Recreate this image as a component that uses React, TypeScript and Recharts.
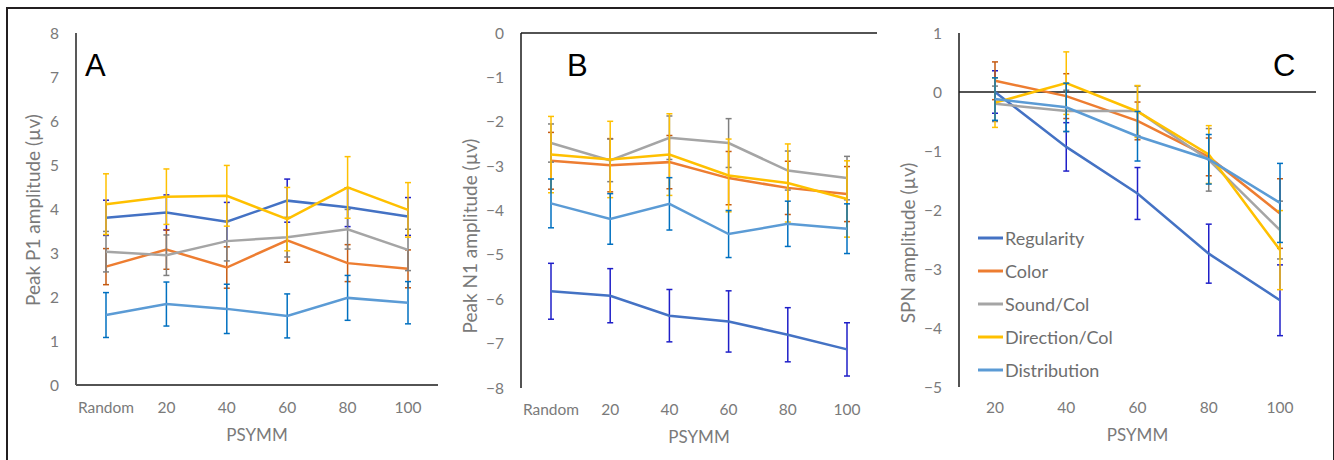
import { LineChart, Line, XAxis, YAxis, ErrorBar, ReferenceLine, Legend, Label } from "recharts";

const psymmAB = ["Random", "20", "40", "60", "80", "100"];
const psymmC = ["20", "40", "60", "80", "100"];

// panel A: peak P1 amplitude (µv), mean and error
const p1Regularity = [3.8, 3.92, 3.71, 4.19, 4.04, 3.83];
const p1RegularityErr = [0.4, 0.4, 0.44, 0.49, 0.44, 0.43];
const p1Color = [2.69, 3.08, 2.67, 3.29, 2.77, 2.64];
const p1ColorErr = [0.41, 0.45, 0.47, 0.5, 0.42, 0.43];
const p1Sound = [3.03, 2.95, 3.27, 3.36, 3.54, 3.07];
const p1SoundErr = [0.46, 0.46, 0.45, 0.45, 0.45, 0.47];
const p1Direction = [4.11, 4.28, 4.3, 3.77, 4.49, 3.98];
const p1DirectionErr = [0.69, 0.63, 0.69, 0.72, 0.7, 0.62];
const p1Distribution = [1.59, 1.84, 1.73, 1.57, 1.98, 1.87];
const p1DistributionErr = [0.51, 0.5, 0.56, 0.5, 0.51, 0.48];

// panel B: peak N1 amplitude (µv)
const n1Regularity = [-5.82, -5.92, -6.37, -6.5, -6.8, -7.13];
const n1RegularityErr = [0.63, 0.61, 0.59, 0.69, 0.61, 0.6];
const n1Color = [-2.88, -2.98, -2.91, -3.27, -3.49, -3.63];
const n1ColorErr = [0.64, 0.6, 0.6, 0.6, 0.6, 0.62];
const n1Sound = [-2.48, -2.87, -2.36, -2.48, -3.1, -3.27];
const n1SoundErr = [0.43, 0.48, 0.49, 0.55, 0.44, 0.49];
const n1Direction = [-2.74, -2.85, -2.74, -3.21, -3.38, -3.74];
const n1DirectionErr = [0.86, 0.86, 0.92, 0.82, 0.88, 0.86];
const n1Distribution = [-3.84, -4.19, -3.85, -4.53, -4.3, -4.41];
const n1DistributionErr = [0.55, 0.57, 0.59, 0.53, 0.51, 0.56];

// panel C: SPN amplitude (µv)
const spnRegularity = [0.0, -0.93, -1.72, -2.74, -3.53];
const spnRegularityErr = [0.36, 0.41, 0.44, 0.5, 0.6];
const spnColor = [0.19, -0.07, -0.49, -1.1, -2.06];
const spnColorErr = [0.32, 0.38, 0.32, 0.32, 0.59];
const spnSound = [-0.2, -0.32, -0.32, -1.15, -2.34];
const spnSoundErr = [0.3, 0.35, 0.42, 0.53, 0.49];
const spnDirection = [-0.18, 0.15, -0.33, -1.06, -2.68];
const spnDirectionErr = [0.42, 0.53, 0.44, 0.49, 0.67];
const spnDistribution = [-0.12, -0.26, -0.75, -1.14, -1.88];
const spnDistributionErr = [0.36, 0.41, 0.42, 0.42, 0.67];

const series = [
  { key: "reg", name: "Regularity", color: "#4472C4", err: "#1F1FC8" },
  { key: "col", name: "Color", color: "#ED7D31", err: "#C55A11" },
  { key: "snd", name: "Sound/Col", color: "#A5A5A5", err: "#7F7F7F" },
  { key: "dir", name: "Direction/Col", color: "#FFC000", err: "#FFC000" },
  { key: "dist", name: "Distribution", color: "#5B9BD5", err: "#0070C0" },
];

const FONT = "Lato, 'Open Sans', sans-serif";
const TXT = "#7a7a7a";

function rows(cats: string[], vals: number[][], errs: number[][]) {
  return cats.map((cat, i) => {
    const r: Record<string, string | number> = { cat };
    series.forEach((s, j) => {
      r[s.key] = vals[j][i];
      r[s.key + "Err"] = errs[j][i];
    });
    return r;
  });
}

const dataA = rows(
  psymmAB,
  [p1Regularity, p1Color, p1Sound, p1Direction, p1Distribution],
  [p1RegularityErr, p1ColorErr, p1SoundErr, p1DirectionErr, p1DistributionErr]
);
const dataB = rows(
  psymmAB,
  [n1Regularity, n1Color, n1Sound, n1Direction, n1Distribution],
  [n1RegularityErr, n1ColorErr, n1SoundErr, n1DirectionErr, n1DistributionErr]
);
const dataC = rows(
  psymmC,
  [spnRegularity, spnColor, spnSound, spnDirection, spnDistribution],
  [spnRegularityErr, spnColorErr, spnSoundErr, spnDirectionErr, spnDistributionErr]
);

const minus = (v: number) => (v < 0 ? `\u2212${Math.abs(v)}` : `${v}`);
const tickStyle = { fill: TXT, fontSize: 15.5, fontFamily: FONT };

const yTitle = (text: string, cx: number, cy: number) => () => (
  <text
    x={cx}
    y={cy}
    transform={`rotate(-90 ${cx} ${cy})`}
    textAnchor="middle"
    dominantBaseline="central"
    fill={TXT}
    fontSize={19}
    fontFamily={FONT}
  >
    {text}
  </text>
);

function lines() {
  return series.map((s) => (
    <Line
      key={s.key}
      dataKey={s.key}
      name={s.name}
      stroke={s.color}
      strokeWidth={2.5}
      dot={false}
      activeDot={false}
      isAnimationActive={false}
    >
      <ErrorBar dataKey={s.key + "Err"} direction="y" width={3} stroke={s.err} strokeWidth={1.5} />
    </Line>
  ));
}

function renderLegend(props: any) {
  const items = props.payload || [];
  // keep the series order, not the alphabetical one
  const ordered = series.map((s) => items.find((p: any) => p.value === s.name)).filter(Boolean);
  return (
    <div style={{ fontFamily: FONT }}>
      {ordered.map((it: any) => (
        <div key={it.value} style={{ display: "flex", alignItems: "center", height: 33 }}>
          <svg width={27} height={6}>
            <line x1={0} y1={3} x2={25} y2={3} stroke={it.color} strokeWidth={3} />
          </svg>
          <span style={{ fontSize: 18, color: "#6e6e6e" }}>{it.value}</span>
        </div>
      ))}
    </div>
  );
}

const panelLetter = { fontFamily: "'Liberation Sans', Arial, sans-serif", fontSize: 31, fill: "#000" };

export default function App() {
  return (
    <div style={{ position: "absolute", left: 0, top: 0, width: 1334, height: 460, background: "#fff", overflow: "hidden" }}>
      <div
        style={{
          position: "absolute",
          left: 6,
          top: 7,
          width: 1325,
          height: 470,
          borderTop: "2px solid #231f20",
          borderLeft: "2px solid #231f20",
          borderRight: "2px solid #231f20",
        }}
      />

      <div style={{ position: "absolute", left: 0, top: 0 }}>
        <LineChart width={440} height={460} data={dataA} margin={{ top: 33, right: 2, bottom: 15, left: 0 }}>
          <XAxis
            dataKey="cat"
            height={60}
            padding={{ left: 30, right: 30 }}
            tickLine={false}
            tickSize={0}
            tickMargin={17}
            tick={tickStyle}
            axisLine={{ stroke: "#1a1a1a", strokeWidth: 1.5 }}
            interval={0}
          >
            <Label value="PSYMM" position="insideBottom" offset={4} fill={TXT} fontSize={17} fontFamily={FONT} />
          </XAxis>
          <YAxis
            width={76}
            domain={[0, 8]}
            ticks={[0, 1, 2, 3, 4, 5, 6, 7, 8]}
            tickLine={false}
            tickSize={0}
            tickMargin={17}
            tick={tickStyle}
            axisLine={{ stroke: "#595959", strokeWidth: 2 }}
          >
            <Label content={yTitle("Peak P1 amplitude  (\u00b5v)", 32, 210)} />
          </YAxis>
          {lines()}
        </LineChart>
      </div>

      <div style={{ position: "absolute", left: 440, top: 0 }}>
        <LineChart width={440} height={460} data={dataB} margin={{ top: 33, right: 3, bottom: 12, left: 0 }}>
          <XAxis
            dataKey="cat"
            height={60}
            padding={{ left: 30, right: 30 }}
            tickLine={false}
            tickSize={0}
            tickMargin={16}
            tick={tickStyle}
            axisLine={false}
            interval={0}
          >
            <Label value="PSYMM" position="insideBottom" offset={5} fill={TXT} fontSize={17} fontFamily={FONT} />
          </XAxis>
          <YAxis
            width={81}
            domain={[-8, 0]}
            ticks={[-8, -7, -6, -5, -4, -3, -2, -1, 0]}
            tickFormatter={minus}
            tickLine={false}
            tickSize={0}
            tickMargin={17}
            tick={tickStyle}
            axisLine={{ stroke: "#1a1a1a", strokeWidth: 1.5 }}
          >
            <Label content={yTitle("Peak N1 amplitude (\u00b5v)", 29, 236)} />
          </YAxis>
          <ReferenceLine y={0} stroke="#1a1a1a" strokeWidth={1.5} />
          {lines()}
        </LineChart>
      </div>

      <div style={{ position: "absolute", left: 880, top: 0 }}>
        <LineChart width={454} height={460} data={dataC} margin={{ top: 33, right: 18, bottom: 13, left: 0 }}>
          <XAxis
            dataKey="cat"
            height={60}
            padding={{ left: 36, right: 36 }}
            tickLine={false}
            tickSize={0}
            tickMargin={15}
            tick={tickStyle}
            axisLine={false}
            interval={0}
          >
            <Label value="PSYMM" position="insideBottom" offset={6} fill={TXT} fontSize={17} fontFamily={FONT} />
          </XAxis>
          <YAxis
            width={79}
            domain={[-5, 1]}
            ticks={[-5, -4, -3, -2, -1, 0, 1]}
            tickFormatter={minus}
            tickLine={false}
            tickSize={0}
            tickMargin={17}
            tick={tickStyle}
            axisLine={{ stroke: "#1a1a1a", strokeWidth: 1.5 }}
          >
            <Label content={yTitle("SPN amplitude (\u00b5v)", 27, 243)} />
          </YAxis>
          <ReferenceLine y={0} stroke="#1a1a1a" strokeWidth={1.5} />
          {lines()}
          <Legend
            layout="vertical"
            align="center"
            verticalAlign="middle"
            content={renderLegend}
            wrapperStyle={{ position: "absolute", left: 98, top: 221, width: 180 }}
          />
        </LineChart>
      </div>

      <svg width={1334} height={460} style={{ position: "absolute", left: 0, top: 0, pointerEvents: "none" }}>
        <text x={85} y={76} {...panelLetter}>A</text>
        <text x={567} y={76} {...panelLetter}>B</text>
        <text x={1273} y={76} {...panelLetter}>C</text>
      </svg>
    </div>
  );
}
